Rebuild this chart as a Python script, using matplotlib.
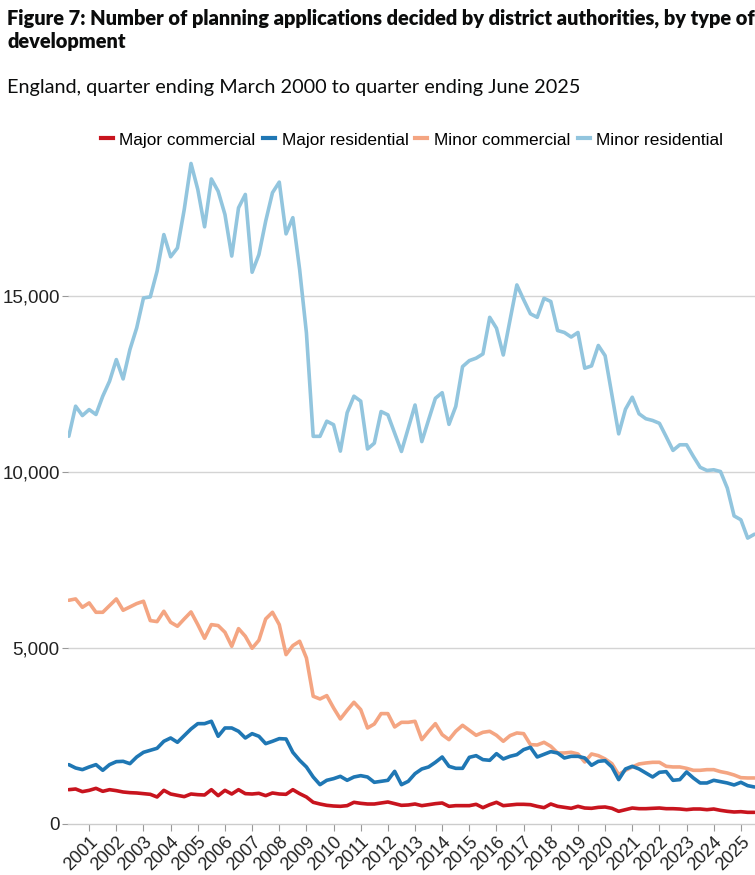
import matplotlib
matplotlib.use("Agg")
import matplotlib.pyplot as plt
from matplotlib.lines import Line2D

# quarter ending March 2000 ... quarter ending June 2025 (102 quarters)
n_quarters = 102
quarter_pos = [2000.25 + 0.25 * i for i in range(n_quarters)]

major_commercial = [
    975, 994, 919, 956, 1013, 928, 975, 947, 909, 890, 881, 862, 843, 767, 956, 852,
    814, 777, 852, 833, 824, 975, 805, 956, 852, 975, 862, 852, 871, 805, 881, 852,
    843, 975, 862, 767, 616, 568, 530, 511, 502, 521, 616, 587, 568, 568, 597, 625,
    578, 530, 540, 568, 521, 549, 578, 597, 502, 521, 521, 521, 559, 464, 549, 616,
    521, 540, 559, 559, 549, 502, 464, 568, 502, 473, 445, 502, 454, 445, 473, 483,
    445, 360, 407, 454, 435, 435, 445, 454, 435, 435, 426, 407, 426, 426, 407, 426,
    388, 360, 341, 350, 331, 331]

major_residential = [
    1686, 1591, 1544, 1620, 1686, 1525, 1686, 1771, 1780, 1714, 1903, 2036, 2093, 2150, 2349, 2443,
    2320, 2510, 2699, 2850, 2850, 2917, 2491, 2727, 2727, 2633, 2443, 2566, 2491, 2282, 2349, 2424,
    2415, 2036, 1809, 1620, 1335, 1117, 1241, 1288, 1354, 1241, 1335, 1373, 1335, 1184, 1212, 1241,
    1496, 1117, 1212, 1430, 1563, 1620, 1752, 1903, 1638, 1581, 1581, 1894, 1941, 1828, 1809, 1998,
    1847, 1922, 1970, 2112, 2178, 1903, 1979, 2055, 2017, 1875, 1922, 1922, 1875, 1667, 1780, 1799,
    1620, 1260, 1563, 1638, 1563, 1449, 1335, 1468, 1487, 1241, 1260, 1477, 1307, 1165, 1165, 1241,
    1203, 1165, 1108, 1184, 1089, 1051]

minor_commercial = [
    6354, 6392, 6155, 6279, 6013, 6013, 6203, 6392, 6070, 6165, 6260, 6326, 5777, 5748, 6042, 5729,
    5616, 5824, 6023, 5663, 5275, 5663, 5635, 5445, 5048, 5549, 5332, 4991, 5218, 5824, 6013, 5663,
    4811, 5066, 5190, 4716, 3627, 3551, 3646, 3296, 2983, 3229, 3457, 3248, 2727, 2840, 3135, 3135,
    2756, 2888, 2888, 2917, 2396, 2633, 2850, 2538, 2396, 2633, 2803, 2661, 2519, 2604, 2633, 2519,
    2349, 2510, 2585, 2566, 2254, 2244, 2320, 2207, 2017, 2017, 2036, 1989, 1761, 1989, 1941, 1847,
    1714, 1402, 1525, 1620, 1705, 1733, 1752, 1752, 1638, 1620, 1620, 1581, 1525, 1525, 1544, 1544,
    1487, 1449, 1392, 1316, 1307, 1307]

minor_residential = [
    11013, 11866, 11600, 11770, 11630, 12150, 12575, 13190, 12640, 13475, 14090, 14940, 14970, 15700, 16740, 16110,
    16360, 17450, 18760, 18020, 16960, 18320, 17970, 17310, 16130, 17500, 17880, 15670, 16170, 17120, 17930, 18230,
    16760, 17220, 15750, 13950, 11010, 11010, 11440, 11340, 10590, 11680, 12150, 12010, 10650, 10815, 11714, 11620,
    11100, 10580, 11240, 11900, 10860, 11480, 12090, 12250, 11350, 11860, 12990, 13160, 13230, 13350, 14390, 14080,
    13320, 14320, 15310, 14890, 14490, 14390, 14930, 14840, 14015, 13960, 13830, 13960, 12945, 13010, 13590, 13300,
    12190, 11080, 11780, 12120, 11650, 11510, 11460, 11380, 11000, 10610, 10770, 10770, 10440, 10130, 10040, 10060,
    10010, 9540, 8750, 8640, 8120, 8230]

series_names = ["Major commercial", "Major residential", "Minor commercial", "Minor residential"]
series_values = [major_commercial, major_residential, minor_commercial, minor_residential]
series_colors = ["#c8141e", "#1f77b4", "#f4a582", "#92c5de"]

year_ticks = list(range(2001, 2026))
y_ticks = [0, 5000, 10000, 15000]
y_tick_labels = ["0", "5,000", "10,000", "15,000"]

title_text = "Figure 7: Number of planning applications decided by district authorities, by type of\ndevelopment"
subtitle_text = "England, quarter ending March 2000 to quarter ending June 2025"

fig = plt.figure(figsize=(7.55, 8.75), dpi=100)
ax = fig.add_axes([68 / 755, 51 / 875, 1 - 68 / 755, (824 - 155) / 875])

# draw in reverse order so Major commercial is on top
for name, vals, col in reversed(list(zip(series_names, series_values, series_colors))):
    ax.plot(quarter_pos, vals, color=col, lw=2.6, solid_joinstyle="round", solid_capstyle="round", zorder=3)

ax.set_xlim(2000.22, 2025.52)
ax.set_ylim(0, 19000)
ax.set_yticks(y_ticks)
ax.set_yticklabels(y_tick_labels, fontsize=13.5, family="Liberation Sans", color="#222222")
ax.set_xticks(year_ticks)
ax.set_xticklabels([str(y) for y in year_ticks], rotation=45, ha="right", rotation_mode="anchor",
                   fontsize=13, family="Liberation Sans", color="#222222")
ax.tick_params(axis="y", length=4, width=0.8, color="#999999", pad=2)
ax.tick_params(axis="x", length=5, width=0.8, color="#999999", pad=2)
for s in ["top", "right", "left"]:
    ax.spines[s].set_visible(False)
ax.spines["bottom"].set_color("#cccccc")
ax.spines["bottom"].set_linewidth(1.0)
for yv in y_ticks[1:]:
    ax.axhline(yv, color="#d4d4d4", lw=1.0, zorder=1)

handles = [Line2D([0], [0], color=c, lw=3) for c in series_colors]
fig.legend(handles, series_names, loc="center", bbox_to_anchor=(412 / 755, 1 - 140 / 875), ncol=4,
           frameon=False, handlelength=0.7, handletextpad=0.4, columnspacing=0.4,
           prop={"family": "Liberation Sans", "size": 12.4})

fig.text(7 / 755, 1 - 8 / 875, title_text, ha="left", va="top", fontsize=14.4,
         fontweight="heavy", family="Lato", color="#0b0c0c", linespacing=1.3)
fig.text(7 / 755, 1 - 88 / 875, subtitle_text, ha="left", va="center", fontsize=14.3,
         family="Lato", color="#0b0c0c")

fig.savefig("out.png", dpi=100)
